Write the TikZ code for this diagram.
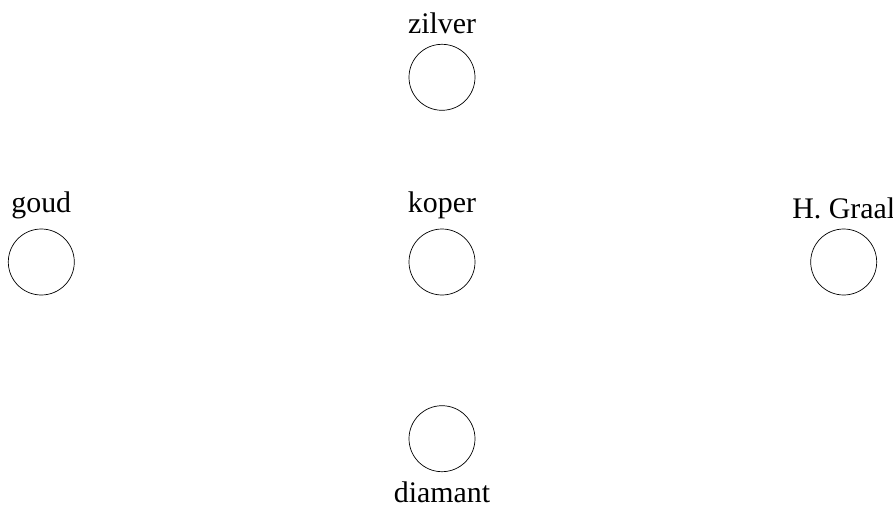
\documentclass[tikz,border=0pt]{standalone}
\usepackage{fontspec}
\setmainfont{Liberation Serif}
\usepackage{tikz}
\usetikzlibrary{positioning}

\begin{document}
\begin{tikzpicture}[
    font=\fontsize{17}{20}\selectfont,
    label distance=2pt,
    prize/.style={circle, draw, thin, minimum size=1.32cm, inner sep=0pt}
  ]
    % Page frame
    \useasboundingbox (0,0) rectangle (17.86,-10.16);

    % Central prize and its neighbours
    \node[prize, label={above:koper}] (koper) at (8.84,-5.24) {};
    \node[prize, label={above:zilver}, above=2.36cm of koper] (zilver) {};
    \node[prize, label={above:goud}, left=6.68cm of koper] (goud) {};
    \node[prize, label={above:H. Graal}, right=6.70cm of koper] (graal) {};
    \node[prize, label={below:diamant}, below=2.2cm of koper] (diamant) {};
  \end{tikzpicture}
\end{document}
